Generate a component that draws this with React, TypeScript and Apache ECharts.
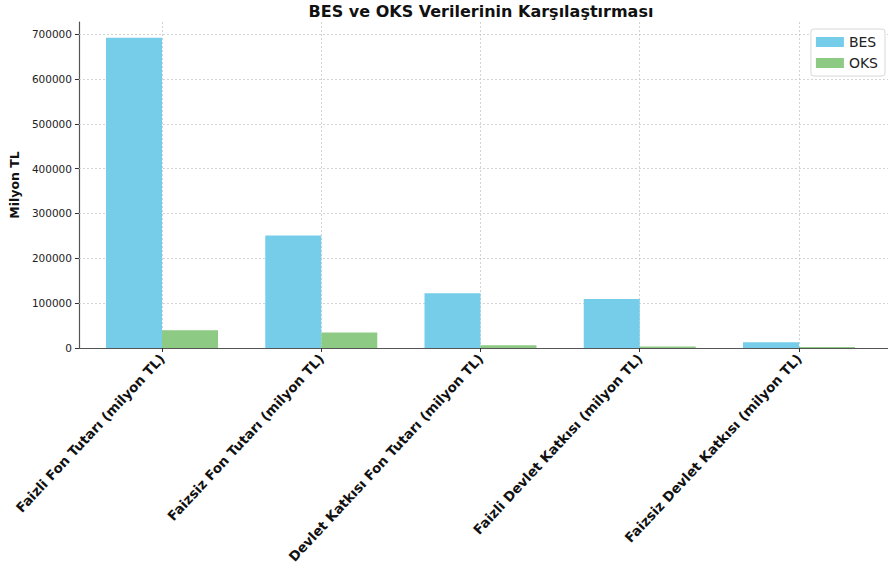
import React, { useEffect, useRef } from "react";
import * as echarts from "echarts";

const categories = [
  "Faizli Fon Tutarı (milyon TL)",
  "Faizsiz Fon Tutarı (milyon TL)",
  "Devlet Katkısı Fon Tutarı (milyon TL)",
  "Faizli Devlet Katkısı (milyon TL)",
  "Faizsiz Devlet Katkısı (milyon TL)",
];
const besValues = [692000, 251000, 122000, 109000, 13000];
const oksValues = [39500, 34500, 6000, 3500, 2500];
const yTicks = [0, 100000, 200000, 300000, 400000, 500000, 600000, 700000];
const Y_MAX = 727000;

const FONT = "DejaVu Sans";

export default function App() {
  const ref = useRef<HTMLDivElement>(null);
  useEffect(() => {
    if (!ref.current) return;
    const chart = echarts.init(ref.current, null, { renderer: "svg" });
    const gridLine = { color: "#c8c8c8", width: 0.8, type: [2, 2] as any };
    chart.setOption({
      animation: false,
      textStyle: { fontFamily: FONT },
      graphic: [
        {
          type: "text",
          x: 481,
          y: 11,
          style: {
            text: "BES ve OKS Verilerinin Karşılaştırması",
            textAlign: "center",
            textVerticalAlign: "middle",
            fontFamily: FONT,
            fontWeight: "bold",
            fontSize: 16,
            fill: "#111",
          },
        },
      ],
      legend: {
        data: ["BES", "OKS"],
        orient: "vertical",
        right: 3,
        top: 29,
        itemWidth: 28,
        itemHeight: 10,
        itemGap: 7,
        icon: "rect",
        padding: [6, 7, 6, 5],
        borderColor: "#d8d8d8",
        borderWidth: 1,
        borderRadius: 3,
        backgroundColor: "#fff",
        textStyle: { fontFamily: FONT, fontSize: 14, color: "#222" },
      },
      grid: [
        { left: 69, right: 0, top: 22, bottom: 228 },
        { left: 82.4, right: 9.4, top: 22, bottom: 228 },
      ],
      xAxis: [
        {
          gridIndex: 0,
          type: "value",
          min: 0,
          max: 1,
          splitLine: { show: false },
          axisTick: { show: false },
          axisLabel: { show: false },
          axisLine: { show: true, onZero: false, lineStyle: { color: "#555", width: 1.2 } },
        },
        {
          gridIndex: 1,
          type: "category",
          data: categories,
          boundaryGap: true,
          splitLine: { show: false },
          axisLine: { show: false, onZero: false },
          axisTick: {
            show: true,
            alignWithLabel: true,
            length: 4,
            lineStyle: { color: "#333" },
          },
          axisLabel: {
            interval: 0,
            rotate: 47,
            margin: 8,
            fontFamily: FONT,
            fontWeight: "bold",
            fontSize: 13.5,
            color: "#111",
          },
        },
      ],
      yAxis: [
        {
          gridIndex: 0,
          type: "value",
          min: 0,
          max: Y_MAX,
          name: "Milyon TL",
          nameLocation: "middle",
          nameGap: 52,
          nameRotate: 90,
          nameTextStyle: { fontFamily: FONT, fontWeight: "bold", fontSize: 12.5, color: "#111" },
          splitLine: { show: false },
          axisLine: { show: true, onZero: false, lineStyle: { color: "#555", width: 1.2 } },
          axisTick: {
            show: true,
            customValues: yTicks,
            length: 4,
            lineStyle: { color: "#333" },
          },
          axisLabel: {
            customValues: yTicks,
            margin: 7,
            fontFamily: FONT,
            fontSize: 10.5,
            color: "#222",
            formatter: (v: number) => String(v),
          },
        },
        {
          gridIndex: 1,
          type: "value",
          min: 0,
          max: Y_MAX,
          show: false,
          splitLine: { show: false },
        },
      ],
      series: [
        {
          name: "hgrid",
          type: "line",
          xAxisIndex: 0,
          yAxisIndex: 0,
          data: [],
          silent: true,
          markLine: {
            z: 1,
            silent: true,
            symbol: ["none", "none"],
            label: { show: false },
            lineStyle: gridLine,
            data: yTicks.filter((y) => y > 0).map((y) => ({ yAxis: y })),
          },
        },
        {
          name: "vgrid",
          type: "line",
          xAxisIndex: 1,
          yAxisIndex: 1,
          data: [],
          silent: true,
          markLine: {
            z: 1,
            silent: true,
            symbol: ["none", "none"],
            label: { show: false },
            lineStyle: gridLine,
            data: categories.map((c) => ({ xAxis: c })),
          },
        },
        {
          name: "BES",
          type: "bar",
          xAxisIndex: 1,
          yAxisIndex: 1,
          z: 2,
          barWidth: 56,
          barGap: "0%",
          itemStyle: { color: "#75CDEA" },
          data: besValues,
        },
        {
          name: "OKS",
          type: "bar",
          xAxisIndex: 1,
          yAxisIndex: 1,
          z: 2,
          barWidth: 56,
          barGap: "0%",
          itemStyle: { color: "#8DCA83" },
          data: oksValues,
        },
      ],
    });
    return () => chart.dispose();
  }, []);
  return (
    <div
      ref={ref}
      style={{ position: "fixed", left: 0, top: 0, width: 888, height: 576, background: "#fff" }}
    />
  );
}
